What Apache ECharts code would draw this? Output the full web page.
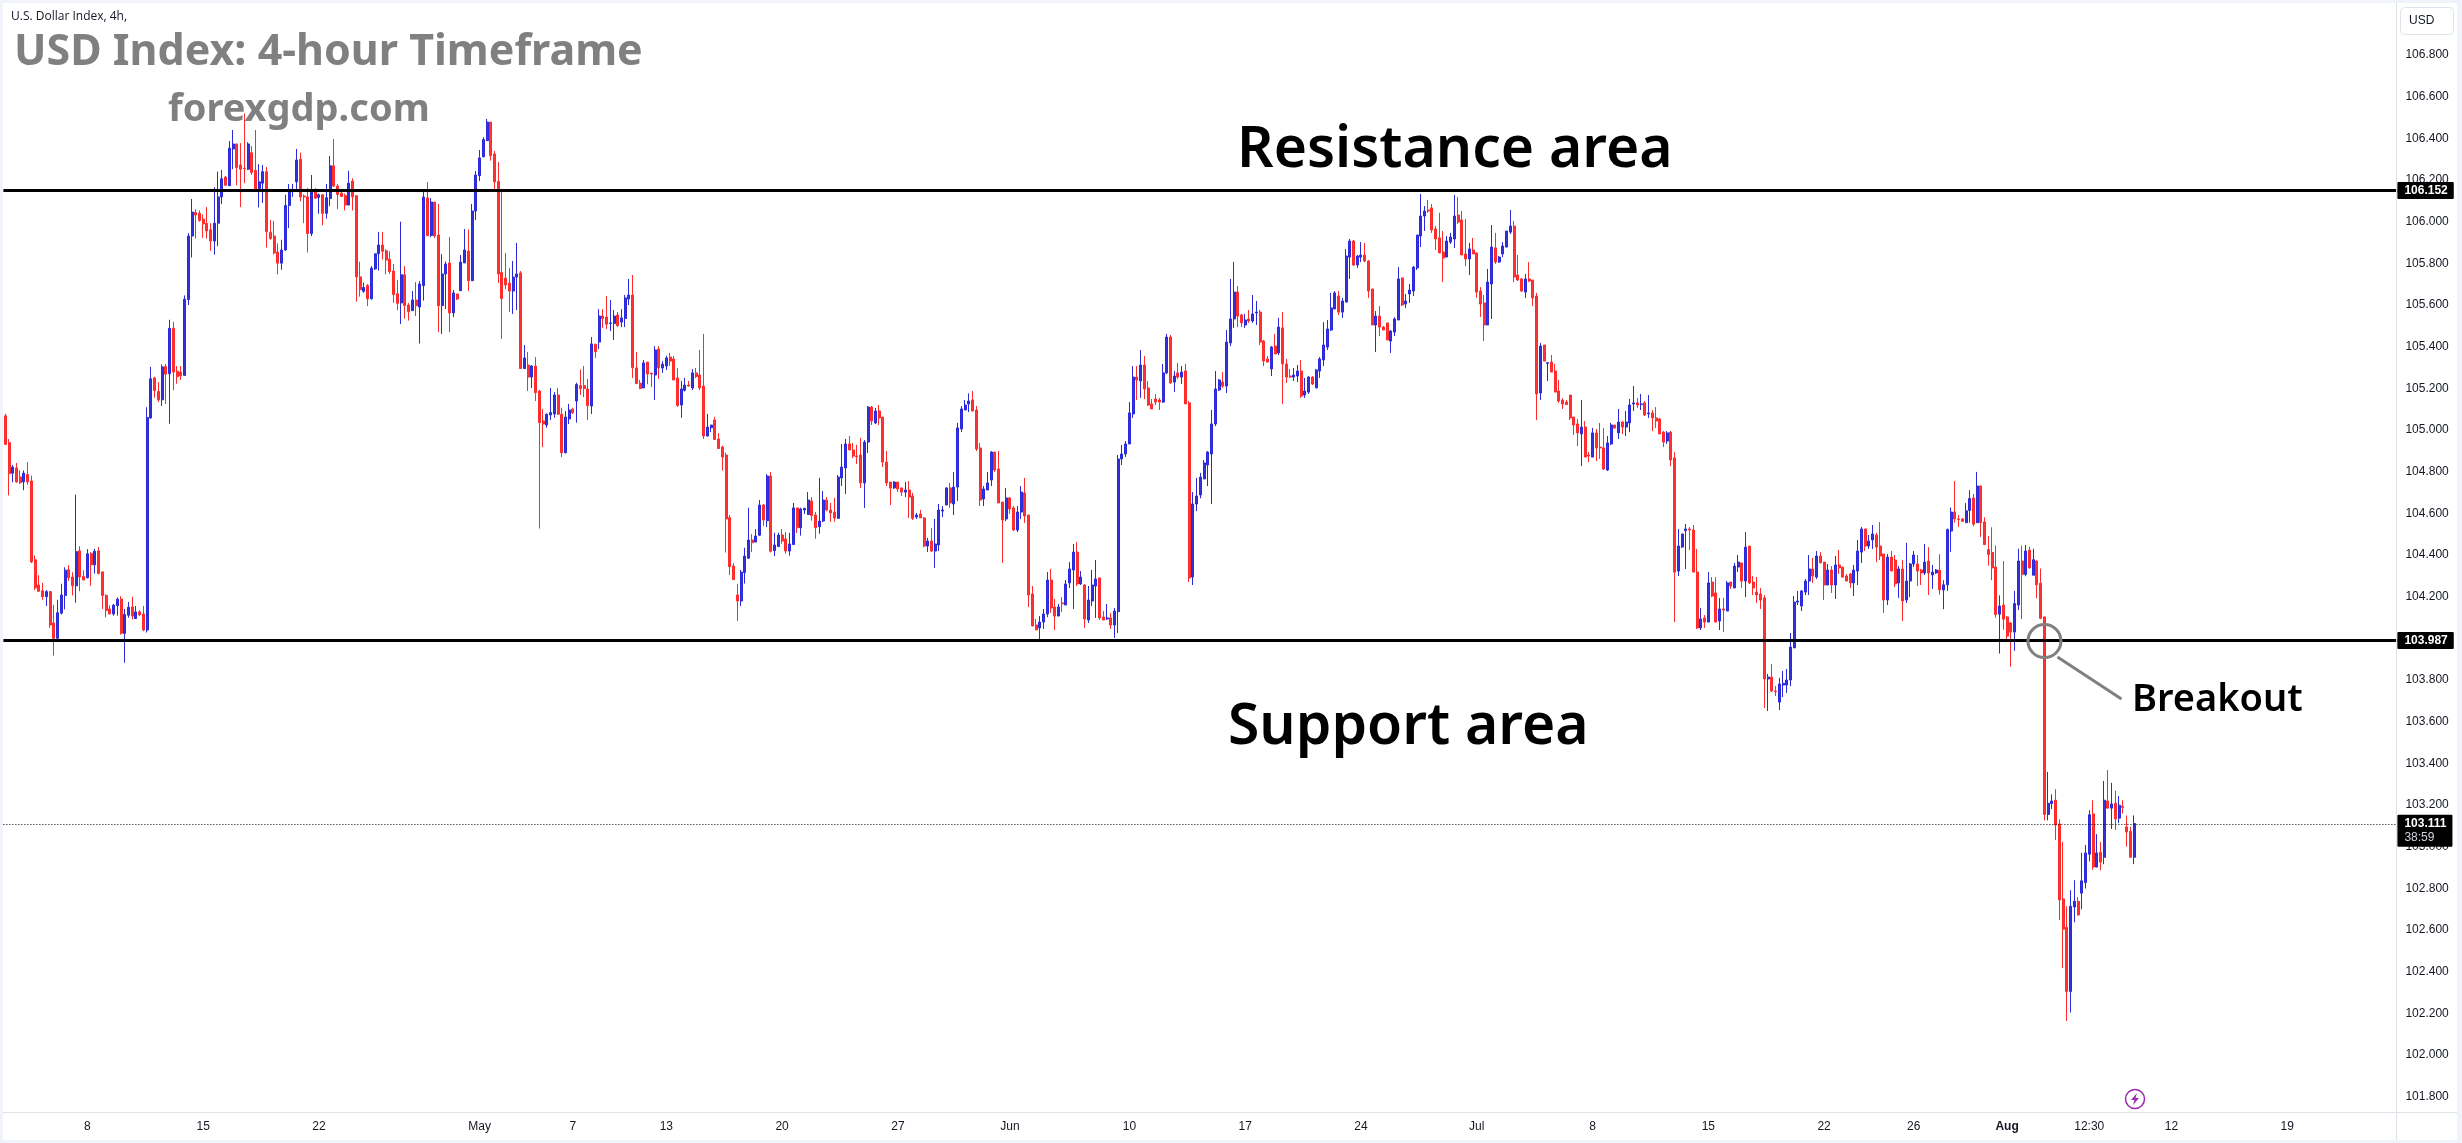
<!DOCTYPE html>
<html>
<head>
<meta charset="utf-8">
<title>USD Index: 4-hour Timeframe</title>
<script src="https://cdn.jsdelivr.net/npm/echarts@6/dist/echarts.min.js"></script>
<style>
  html, body { margin: 0; padding: 0; background: #fff; }
  #chart { width: 2462px; height: 1143px; }
</style>
</head>
<body>
<div id="chart"></div>
<script>
// 4-hour bars as [open, close, low, high], one list per calendar stretch.
const aprilBars = [
[105.068,104.931,104.931,105.078],[104.939,104.791,104.686,104.957],[104.793,104.822,104.749,104.832],[104.818,104.751,104.747,104.842],[104.775,104.747,104.741,104.806],[104.751,104.793,104.711,104.806],[104.787,104.751,104.737,104.846],[104.755,104.367,104.361,104.781],
[104.377,104.242,104.232,104.398],[104.256,104.226,104.222,104.303],[104.228,104.200,104.185,104.266],[104.200,104.224,104.155,104.232],[104.224,104.064,104.050,104.228],[104.074,104.000,103.917,104.161],[104.000,104.123,103.998,104.185],[104.121,104.208,104.115,104.262],
[104.206,104.327,104.139,104.341],[104.329,104.291,104.276,104.351],[104.295,104.252,104.206,104.317],[104.252,104.416,104.171,104.690],[104.420,104.295,104.226,104.442],[104.297,104.280,104.280,104.327],[104.291,104.406,104.288,104.428],[104.406,104.353,104.252,104.414],
[104.353,104.418,104.311,104.430],[104.420,104.311,104.307,104.438],[104.319,104.206,104.141,104.321],[104.206,104.133,104.101,104.212],[104.141,104.117,104.115,104.159],[104.117,104.159,104.109,104.165],[104.157,104.188,104.109,104.196],[104.188,104.024,104.018,104.202],
[104.024,104.115,103.883,104.141],[104.111,104.149,104.099,104.175],[104.151,104.107,104.091,104.200],[104.095,104.127,104.093,104.155],[104.127,104.113,104.107,104.135],[104.117,104.040,104.034,104.155],[104.040,105.060,104.028,105.109],[105.058,105.246,105.054,105.303],
[105.250,105.189,105.155,105.256],[105.185,105.145,105.135,105.230],[105.145,105.303,105.115,105.315],[105.305,105.268,105.125,105.317],[105.270,105.488,105.030,105.529],[105.488,105.278,105.191,105.519],[105.282,105.256,105.222,105.307],[105.278,105.260,105.240,105.307],
[105.262,105.628,105.260,105.646],[105.626,105.931,105.600,105.945],[105.931,106.046,105.828,106.109],[106.044,106.032,105.919,106.060],[106.040,106.006,106.000,106.054],[106.012,105.989,105.923,106.034],[105.991,105.955,105.919,106.070],[105.961,105.907,105.860,105.993],
[105.907,105.993,105.842,106.165],[105.993,106.119,105.882,106.240],[106.119,106.206,106.084,106.248],[106.214,106.175,106.173,106.220],[106.173,106.353,106.171,106.387],[106.349,106.373,106.252,106.440],[106.373,106.260,106.175,106.373],[106.272,106.252,106.070,106.377],
[106.256,106.254,106.185,106.519],[106.252,106.373,106.248,106.381],[106.331,106.236,106.224,106.363],[106.246,106.151,106.145,106.440],[106.159,106.191,106.068,106.276],[106.185,106.240,106.090,106.272],[106.240,105.953,105.876,106.262],[105.949,105.919,105.913,106.008],
[105.931,105.850,105.842,106.004],[105.854,105.801,105.747,105.896],[105.801,105.864,105.769,105.913],[105.864,106.078,105.860,106.129],[106.078,106.155,105.969,106.181],[106.149,106.151,106.119,106.181],[106.191,106.296,106.155,106.349],[106.300,106.119,106.098,106.331],
[106.123,106.119,105.993,106.131],[106.119,105.943,105.852,106.161],[105.943,106.155,105.931,106.224],[106.155,106.113,106.109,106.161],[106.117,106.129,106.038,106.135],[106.129,106.040,105.983,106.131],[106.040,106.115,106.014,106.181],[106.111,106.268,106.074,106.315],
[106.268,106.171,106.167,106.397],[106.171,106.131,106.060,106.181],[106.137,106.121,106.119,106.143],[106.125,106.080,106.054,106.135],[106.080,106.185,106.078,106.244],[106.195,106.119,106.054,106.208],[106.125,105.735,105.616,106.125],[105.735,105.674,105.640,105.808],
[105.666,105.684,105.658,105.707],[105.694,105.630,105.595,105.700],[105.630,105.777,105.626,105.787],[105.773,105.846,105.769,105.846],[105.846,105.888,105.765,105.951],[105.888,105.858,105.818,105.951],[105.860,105.816,105.747,105.868],[105.820,105.761,105.749,105.858],
[105.763,105.650,105.610,105.797],[105.654,105.608,105.575,105.721],[105.610,105.745,105.509,106.000],[105.745,105.598,105.535,105.787],[105.600,105.568,105.525,105.610],[105.573,105.624,105.573,105.667],[105.624,105.597,105.547,105.710],[105.590,105.701,105.415,105.715],
[105.693,106.118,105.621,106.142],[106.114,105.933,105.933,106.190],[105.934,106.094,105.926,106.113],[106.094,105.931,105.922,106.094],[105.936,105.597,105.470,106.085],[105.597,105.749,105.461,105.844],[105.749,105.797,105.581,105.809],[105.802,105.562,105.470,105.926],
[105.562,105.658,105.542,105.672],[105.653,105.629,105.624,105.653],[105.669,105.806,105.667,105.840],[105.802,105.864,105.802,105.965],[105.859,105.717,105.667,105.962],[105.717,106.051,105.715,106.085],[106.051,106.224,106.008,106.243]
];

const mayBars = [
[106.221,106.306,106.195,106.344],[106.311,106.394,106.310,106.406],[106.389,106.478,106.387,106.493],[106.478,106.317,106.293,106.478],[106.325,106.191,106.142,106.339],[106.193,105.749,105.706,106.286],[105.756,105.631,105.437,106.145],[105.729,105.696,105.676,105.850],
[105.705,105.667,105.566,105.778],[105.667,105.734,105.557,105.811],[105.734,105.749,105.576,105.898],[105.754,105.295,105.293,105.763],[105.295,105.346,105.293,105.408],[105.312,105.254,105.187,105.374],[105.254,105.307,105.202,105.312],[105.307,105.179,105.139,105.350],
[105.187,105.035,104.527,105.192],[105.043,105.029,104.918,105.101],[105.024,105.076,105.011,105.079],[105.072,105.084,105.048,105.202],[105.077,105.168,105.059,105.182],[105.168,105.076,105.072,105.202],[105.076,104.891,104.870,105.107],[104.891,105.062,104.887,105.091],
[105.053,105.096,105.029,105.125],[105.100,105.083,105.077,105.107],[105.139,105.218,105.035,105.227],[105.213,105.199,105.168,105.290],[105.213,105.199,105.158,105.307],[105.197,105.117,105.048,105.245],[105.115,105.413,105.077,105.446],[105.412,105.376,105.346,105.413],
[105.422,105.547,105.389,105.580],[105.547,105.535,105.490,105.580],[105.542,105.508,105.485,105.643],[105.511,105.514,105.475,105.624],[105.511,105.547,105.432,105.576],[105.552,105.501,105.494,105.566],[105.518,105.538,105.494,105.580],[105.535,105.634,105.494,105.648],
[105.629,105.648,105.600,105.725],[105.648,105.300,105.250,105.744],[105.298,105.223,105.220,105.374],[105.225,105.199,105.196,105.240],[105.202,105.322,105.202,105.336],[105.326,105.269,105.220,105.326],[105.273,105.269,105.206,105.273],[105.264,105.384,105.144,105.403],
[105.389,105.298,105.245,105.403],[105.298,105.316,105.274,105.331],[105.307,105.346,105.288,105.357],[105.350,105.331,105.307,105.370],[105.341,105.240,105.240,105.355],[105.250,105.118,105.110,105.297],[105.120,105.197,105.059,105.235],[105.191,105.216,105.185,105.250],
[105.216,105.211,105.209,105.235],[105.202,105.274,105.192,105.292],[105.274,105.257,105.249,105.298],[105.264,105.202,105.192,105.384],[105.211,104.971,104.957,105.461],[104.971,105.014,104.969,105.077],[105.011,105.024,104.990,105.024],[105.048,104.954,104.952,105.062],
[104.957,104.911,104.911,104.985],[104.918,104.870,104.805,104.925],[104.880,104.573,104.412,104.891],[104.579,104.344,104.304,104.592],[104.347,104.282,104.280,104.361],[104.208,104.179,104.083,104.262],[104.179,104.318,104.155,104.328],[104.316,104.395,104.263,104.435],
[104.385,104.472,104.381,104.627],[104.472,104.459,104.414,104.500],[104.462,104.491,104.462,104.524],[104.495,104.640,104.493,104.664],[104.640,104.568,104.539,104.644],[104.565,104.779,104.534,104.788],[104.779,104.418,104.412,104.798],[104.421,104.448,104.395,104.507],
[104.441,104.496,104.438,104.507],[104.496,104.467,104.454,104.525],[104.477,104.419,104.406,104.510],[104.419,104.453,104.397,104.506],[104.450,104.626,104.450,104.650],[104.626,104.531,104.506,104.626],[104.531,104.621,104.493,104.627],[104.616,104.624,104.597,104.626],
[104.594,104.664,104.592,104.702],[104.659,104.590,104.565,104.678],[104.592,104.531,104.478,104.606],[104.536,104.563,104.502,104.770],[104.563,104.664,104.558,104.707],[104.664,104.616,104.610,104.678],[104.616,104.602,104.560,104.650],[104.606,104.578,104.560,104.674],
[104.576,104.774,104.573,104.784],[104.770,104.822,104.731,104.933],[104.818,104.933,104.693,104.957],[104.933,104.904,104.904,104.971],[104.904,104.875,104.866,104.938],[104.875,104.872,104.837,104.928],[104.880,104.746,104.722,104.962],[104.746,104.942,104.626,104.952],
[104.942,105.110,104.890,105.115],[105.110,105.043,105.024,105.115],[105.034,105.091,105.029,105.106],[105.091,105.058,105.024,105.120],[105.062,104.846,104.822,105.062],[104.846,104.746,104.731,104.899],[104.750,104.722,104.640,104.750],[104.722,104.750,104.717,104.755],
[104.750,104.717,104.702,104.750],[104.722,104.702,104.683,104.722],[104.702,104.712,104.678,104.750],[104.712,104.678,104.578,104.755],[104.683,104.576,104.568,104.698],[104.582,104.592,104.573,104.602],[104.597,104.578,104.578,104.616],[104.578,104.443,104.438,104.582],
[104.443,104.467,104.414,104.482],[104.467,104.419,104.414,104.530],[104.419,104.453,104.338,104.573],[104.448,104.616,104.419,104.645],[104.611,104.616,104.582,104.635],[104.640,104.722,104.640,104.725],[104.722,104.650,104.626,104.746],[104.645,104.726,104.592,104.798],
[104.726,105.010,104.659,105.034],[105.005,105.101,104.990,105.115],[105.096,105.120,105.096,105.144],[105.125,105.139,105.086,105.176],[105.144,105.091,105.091,105.187],[105.096,104.909,104.899,105.115],[104.914,104.664,104.635,104.938],[104.669,104.717,104.635,104.731],
[104.712,104.746,104.712,104.798],[104.760,104.894,104.731,104.899],[104.894,104.808,104.798,104.894],[104.813,104.650,104.650,104.899],[104.654,104.568,104.362,104.654],[104.573,104.674,104.563,104.722],[104.674,104.621,104.597,104.678]
];

const juneBars = [
[104.626,104.520,104.515,104.635],[104.520,104.606,104.510,104.635],[104.606,104.702,104.573,104.731],[104.698,104.587,104.554,104.770],[104.592,104.208,104.150,104.592],[104.213,104.059,104.059,104.251],[104.064,104.040,104.040,104.093],[104.050,104.078,103.992,104.107],
[104.078,104.117,104.045,104.141],[104.117,104.280,104.102,104.318],[104.280,104.146,104.122,104.333],[104.150,104.107,104.040,104.189],[104.107,104.150,104.107,104.165],[104.170,104.166,104.126,104.198],[104.160,104.261,104.160,104.280],[104.266,104.333,104.242,104.366],
[104.328,104.414,104.141,104.453],[104.414,104.261,104.251,104.462],[104.261,104.294,104.256,104.323],[104.256,104.093,104.050,104.261],[104.088,104.184,104.074,104.251],[104.179,104.256,104.155,104.328],[104.251,104.285,104.098,104.376],[104.290,104.098,104.088,104.290],
[104.102,104.088,104.088,104.131],[104.093,104.098,104.088,104.165],[104.098,104.064,104.045,104.122],[104.064,104.131,104.002,104.146],[104.128,104.861,104.026,104.880],[104.861,104.885,104.832,104.928],[104.885,104.933,104.870,104.947],[104.933,105.082,104.933,105.134],
[105.077,105.254,105.058,105.307],[105.254,105.240,105.144,105.307],[105.235,105.312,105.154,105.384],[105.312,105.197,105.149,105.355],[105.202,105.120,105.115,105.235],[105.125,105.101,105.101,105.149],[105.149,105.134,105.120,105.173],[105.144,105.134,105.096,105.154],
[105.134,105.274,105.130,105.317],[105.274,105.446,105.269,105.461],[105.446,105.226,105.221,105.456],[105.230,105.259,105.182,105.283],[105.274,105.254,105.245,105.322],[105.254,105.278,105.221,105.307],[105.283,105.125,105.125,105.317],[105.130,104.290,104.270,105.139],
[104.294,104.645,104.256,104.702],[104.645,104.683,104.611,104.770],[104.688,104.774,104.672,104.794],[104.765,104.842,104.765,104.856],[104.832,104.894,104.731,104.899],[104.885,105.029,104.645,105.096],[105.029,105.197,105.019,105.283],[105.192,105.240,105.187,105.245],
[105.230,105.211,105.202,105.278],[105.211,105.422,105.178,105.480],[105.418,105.533,105.403,105.725],[105.533,105.662,105.490,105.806],[105.662,105.547,105.494,105.691],[105.552,105.514,105.494,105.557],[105.504,105.528,105.490,105.557],[105.533,105.523,105.514,105.576],
[105.523,105.557,105.514,105.648],[105.562,105.566,105.504,105.619],[105.566,105.422,105.408,105.576],[105.427,105.331,105.307,105.432],[105.341,105.326,105.326,105.355],[105.293,105.398,105.259,105.403],[105.403,105.365,105.365,105.461],[105.370,105.494,105.360,105.538],
[105.490,105.317,105.125,105.566],[105.317,105.254,105.226,105.341],[105.259,105.254,105.250,105.293],[105.254,105.264,105.235,105.298],[105.259,105.283,105.230,105.312],[105.283,105.163,105.154,105.336],[105.168,105.187,105.154,105.250],[105.182,105.254,105.173,105.259],
[105.254,105.221,105.216,105.259],[105.202,105.288,105.202,105.293],[105.283,105.341,105.250,105.350],[105.336,105.408,105.307,105.518],[105.398,105.485,105.384,105.528],[105.480,105.586,105.475,105.658],[105.581,105.658,105.581,105.667],[105.643,105.566,105.552,105.667],
[105.566,105.619,105.538,105.634],[105.614,105.835,105.614,105.869],[105.830,105.907,105.725,105.917],[105.907,105.792,105.787,105.912],[105.792,105.835,105.778,105.840],[105.830,105.840,105.806,105.902],[105.840,105.811,105.806,105.898],[105.811,105.667,105.634,105.816],
[105.677,105.504,105.504,105.677],[105.504,105.547,105.374,105.571],[105.547,105.494,105.451,105.595],[105.494,105.480,105.480,105.499],[105.514,105.432,105.432,105.514],[105.427,105.475,105.370,105.480],[105.470,105.533,105.451,105.542],[105.528,105.725,105.528,105.782],
[105.730,105.600,105.595,105.730],[105.605,105.619,105.586,105.653],[105.653,105.672,105.610,105.701],[105.667,105.782,105.643,105.787],[105.778,105.936,105.768,105.936],[105.931,106.027,105.878,106.133],[106.027,106.051,105.955,106.075],[106.056,106.051,106.042,106.104],
[106.066,105.960,105.946,106.085],[105.965,105.917,105.864,105.979],[105.922,105.850,105.850,106.042],[105.854,105.826,105.710,105.955],[105.830,105.907,105.830,105.931],[105.902,105.926,105.893,105.946],[105.917,106.027,105.874,106.128],[106.032,105.998,105.989,106.118]
];

const julyBars = [
[106.008,105.840,105.840,106.051],[105.845,105.821,105.787,106.013],[105.821,105.869,105.744,105.898],[105.864,105.845,105.845,105.922],[105.850,105.662,105.634,105.850],[105.667,105.605,105.542,105.686],[105.610,105.504,105.427,105.648],[105.504,105.710,105.504,105.773],
[105.701,105.878,105.533,105.984],[105.874,105.806,105.797,105.946],[105.806,105.830,105.802,105.835],[105.845,105.883,105.830,105.902],[105.878,105.955,105.878,105.955],[105.950,105.979,105.941,106.056],[105.979,105.734,105.710,106.003],[105.744,105.720,105.715,105.840],
[105.725,105.667,105.662,105.730],[105.662,105.725,105.634,105.749],[105.725,105.715,105.710,105.806],[105.720,105.634,105.595,105.720],[105.643,105.173,105.048,105.658],[105.178,105.403,105.144,105.418],[105.408,105.331,105.331,105.408],[105.320,105.323,105.235,105.326],
[105.326,105.278,105.278,105.360],[105.283,105.182,105.182,105.317],[105.187,105.139,105.130,105.240],[105.144,105.125,105.101,105.152],[105.134,105.122,105.120,105.144],[105.168,105.058,105.048,105.168],[105.062,105.024,104.976,105.062],[105.029,104.986,104.923,105.053],
[104.981,105.014,104.827,105.144],[105.014,104.870,104.870,105.043],[104.880,104.875,104.846,104.894],[104.870,104.986,104.870,105.010],[104.986,104.914,104.851,105.005],[104.918,104.914,104.861,105.034],[104.914,104.813,104.808,105.010],[104.808,104.938,104.803,104.971],
[104.933,105.024,104.928,105.034],[105.024,105.010,105.005,105.024],[104.986,105.038,104.957,105.101],[105.038,105.014,104.981,105.043],[105.014,105.038,104.971,105.091],[105.034,105.120,104.990,105.149],[105.125,105.130,105.091,105.211],[105.130,105.120,105.106,105.154],
[105.122,105.125,105.096,105.173],[105.130,105.072,105.067,105.139],[105.078,105.082,105.058,105.168],[105.082,105.058,104.995,105.096],[105.058,105.043,105.010,105.110],[105.053,104.981,104.981,105.058],[104.990,104.942,104.918,104.995],[104.947,104.986,104.933,104.995],
[104.990,104.856,104.827,104.995],[104.866,104.318,104.078,104.894],[104.323,104.443,104.299,104.525],[104.438,104.501,104.434,104.501],[104.517,104.525,104.333,104.549],[104.525,104.520,104.424,104.534],[104.520,104.318,104.318,104.544],[104.318,104.050,104.045,104.429],
[104.050,104.093,104.040,104.146],[104.098,104.078,104.050,104.112],[104.078,104.266,104.078,104.318],[104.270,104.203,104.198,104.294],[104.218,104.078,104.078,104.294],[104.083,104.141,104.040,104.194],[104.141,104.136,104.030,104.194],[104.131,104.266,104.131,104.275],
[104.270,104.251,104.237,104.270],[104.242,104.347,104.242,104.362],[104.342,104.366,104.318,104.400],[104.362,104.275,104.242,104.362],[104.275,104.438,104.198,104.510],[104.443,104.266,104.261,104.443],[104.270,104.242,104.208,104.299],[104.222,104.208,104.170,104.294],
[104.213,104.184,104.141,104.242],[104.194,103.805,103.666,104.208],[103.805,103.814,103.651,103.829],[103.814,103.747,103.742,103.877],[103.747,103.744,103.723,103.771],[103.694,103.781,103.656,103.810],[103.776,103.784,103.718,103.843],[103.776,103.800,103.738,103.853],
[103.800,103.958,103.771,104.026],[103.954,104.174,103.954,104.203],[104.174,104.179,104.160,104.227],[104.155,104.227,104.131,104.232],[104.222,104.275,104.208,104.285],[104.275,104.333,104.208,104.400],[104.333,104.299,104.266,104.386],[104.294,104.395,104.285,104.419],
[104.395,104.362,104.362,104.414],[104.366,104.256,104.184,104.366],[104.256,104.328,104.256,104.357],[104.328,104.256,104.218,104.347],[104.256,104.352,104.189,104.395],[104.352,104.338,104.309,104.424],[104.342,104.294,104.294,104.342],[104.299,104.275,104.275,104.309],
[104.309,104.266,104.242,104.314],[104.266,104.328,104.203,104.352],[104.323,104.419,104.256,104.472],[104.414,104.525,104.362,104.534],[104.525,104.443,104.419,104.525],[104.443,104.467,104.429,104.496],[104.472,104.501,104.429,104.544],[104.496,104.438,104.366,104.506],
[104.443,104.395,104.376,104.558],[104.405,104.184,104.122,104.405],[104.184,104.390,104.160,104.405],[104.390,104.323,104.323,104.419],[104.376,104.261,104.246,104.400],[104.266,104.333,104.194,104.347],[104.333,104.179,104.083,104.376],[104.184,104.275,104.170,104.458],
[104.275,104.357,104.198,104.362],[104.357,104.400,104.342,104.419],[104.357,104.323,104.251,104.400],[104.328,104.314,104.256,104.333],[104.314,104.366,104.304,104.453],[104.371,104.314,104.208,104.438],[104.304,104.318,104.237,104.352],[104.314,104.328,104.309,104.333],
[104.327,104.233,104.210,104.404],[104.232,104.257,104.140,104.279],[104.257,104.522,104.228,104.527],[104.515,104.606,104.415,104.628],[104.606,104.573,104.555,104.755],[104.573,104.570,104.535,104.592],[104.573,104.562,104.559,104.577],[104.555,104.612,104.555,104.649],
[104.614,104.671,104.555,104.711],[104.674,104.548,104.538,104.693],[104.555,104.731,104.555,104.799],[104.731,104.555,104.487,104.733],[104.559,104.450,104.450,104.581],[104.426,104.402,104.349,104.491],[104.412,104.338,104.279,104.533],[104.342,104.114,104.099,104.445],
[104.116,104.155,103.927,104.206],[104.160,104.092,104.041,104.371],[104.103,104.011,103.985,104.107]
];

const augustBars = [
[104.074,104.030,103.864,104.077],[104.030,104.167,103.940,104.228],[104.160,104.371,104.136,104.430],[104.371,104.307,104.092,104.445],[104.307,104.419,104.298,104.448],[104.423,104.338,104.335,104.439],[104.303,104.377,104.303,104.430],[104.371,104.257,104.193,104.375],
[104.265,104.096,104.092,104.335],[104.103,103.155,103.126,104.103],[103.155,103.208,103.126,103.359],[103.207,103.219,103.181,103.251],[103.223,103.104,103.032,103.276],[103.109,102.744,102.648,103.131],[102.749,102.604,102.417,103.023],[102.613,102.305,102.163,102.714],
[102.305,102.714,102.204,102.791],[102.711,102.738,102.637,102.839],[102.738,102.672,102.670,102.758],[102.777,102.836,102.700,102.971],[102.828,102.970,102.799,103.008],[102.964,103.153,102.929,103.175],[103.157,102.903,102.889,103.223],[102.902,102.970,102.902,103.060],
[102.973,102.926,102.887,103.023],[102.949,103.223,102.916,103.315],[103.219,103.185,103.185,103.368],[103.185,103.205,103.085,103.306],[103.208,103.133,103.080,103.269],[103.137,103.199,103.113,103.243],[103.194,103.188,103.159,103.223],[103.095,103.071,103.000,103.150],
[103.074,102.949,102.949,103.095],[102.949,103.111,102.916,103.150]
];

const bars = [...aprilBars, ...mayBars, ...juneBars, ...julyBars, ...augustBars];

// Time-scale labels and the bar each one sits under.
const tickLabels = ['8','15','22','May','7','13','20','27','Jun','10','17','24','Jul','8','15','22','26','Aug','12:30','12','19'];
const tickBars = [22,53,84,127,152,177,208,239,269,301,332,363,394,425,456,487,511,536,558,580,611];

const resistanceLevel = 106.152;
const supportLevel = 103.987;
const lastPrice = 103.111;
const countdown = '38:59';
const slotCount = 641;
const breakoutBar = 546;

const categories = Array.from({ length: slotCount }, (_, i) => {
  const at = tickBars.indexOf(i);
  return at >= 0 ? tickLabels[at] : '';
});

const axisFont = '"Liberation Sans", Arial, sans-serif';
const headFont = '"Noto Sans", "Open Sans", sans-serif';
const LINE = '#e0e3eb';
const BAND = '#f0f3fa';

function levelTag(value) {
  return {
    yAxis: value,
    lineStyle: { color: '#000', width: 3, type: 'solid' },
    label: {
      show: true, position: 'end', distance: 0, formatter: value.toFixed(3),
      color: '#fff', backgroundColor: '#000', fontFamily: axisFont,
      fontSize: 12, fontWeight: 'bold', padding: [3, 6, 2, 7], borderRadius: 1
    }
  };
}

function headText(text, x, y, size, color, weight) {
  return {
    type: 'text', z: 100, silent: true,
    style: { text, x, y, fill: color, font: `${weight} ${size}px ${headFont}`, verticalAlign: 'middle' }
  };
}

function frameRect(x, y, width, height, color) {
  return { type: 'rect', z: 90, silent: true, shape: { x, y, width, height }, style: { fill: color } };
}

const chart = echarts.init(document.getElementById('chart'), null, { renderer: 'canvas' });

chart.setOption({
  animation: false,
  backgroundColor: '#ffffff',
  grid: { left: 3.4, top: 55, width: 2394, height: 1041.67, containLabel: false },
  xAxis: {
    type: 'category',
    data: categories,
    boundaryGap: true,
    axisLine: { show: false },
    axisTick: { show: false },
    splitLine: { show: false },
    axisLabel: {
      interval: 0, margin: 24, color: '#131722', fontFamily: axisFont, fontSize: 12,
      formatter: v => (v === 'Aug' ? '{b|Aug}' : v),
      rich: { b: { fontWeight: 'bold', fontFamily: axisFont, fontSize: 12, color: '#131722' } }
    }
  },
  yAxis: {
    type: 'value',
    position: 'right',
    min: 101.8,
    max: 106.8,
    interval: 0.2,
    axisLine: { show: false },
    axisTick: { show: false },
    splitLine: { show: false },
    axisLabel: {
      margin: 8, color: '#131722', fontFamily: axisFont, fontSize: 12,
      formatter: v => v.toFixed(3)
    }
  },
  series: [{
    type: 'candlestick',
    data: bars,
    barWidth: 2.5,
    clip: false,
    itemStyle: {
      color: '#3333d9', color0: '#ff3333',
      borderColor: '#2a2adb', borderColor0: '#ff2a2a',
      borderWidth: 1
    },
    markLine: {
      silent: true, symbol: 'none', animation: false, z: 20,
      data: [
        levelTag(resistanceLevel),
        levelTag(supportLevel),
        {
          yAxis: lastPrice,
          lineStyle: { color: '#000', width: 1, type: [1, 2] },
          label: {
            show: true, position: 'end', distance: 0, offset: [0, 7],
            formatter: `{a|${lastPrice.toFixed(3)}}\n{b|${countdown}}`,
            backgroundColor: '#000', padding: [2, 6, 2, 7], borderRadius: 1,
            rich: {
              a: { color: '#fff', fontFamily: axisFont, fontSize: 12, fontWeight: 'bold', lineHeight: 14 },
              b: { color: '#d1d4dc', fontFamily: axisFont, fontSize: 12, lineHeight: 14 }
            }
          }
        }
      ]
    }
  }]
});

// Annotations go in once the axes exist, so the breakout ring can sit on its bar.
const [ringX, ringY] = chart.convertToPixel({ xAxisIndex: 0, yAxisIndex: 0 }, [breakoutBar, supportLevel]);
chart.setOption({
  graphic: [
    // Pane frame and price-scale column
    frameRect(0, 0, 2462, 3, BAND),
    frameRect(0, 0, 3, 1143, BAND),
    frameRect(2457, 0, 5, 1143, BAND),
    frameRect(0, 1140, 2462, 3, BAND),
    frameRect(2396, 3, 1, 1137, LINE),
    frameRect(3, 1112, 2454, 1, LINE),
    // Currency button above the price scale
    {
      type: 'rect', z: 95, silent: true,
      shape: { x: 2400.5, y: 7.5, width: 53, height: 27, r: 4 },
      style: { fill: '#fff', stroke: LINE, lineWidth: 1 }
    },
    { type: 'text', z: 96, silent: true, style: { text: 'USD', x: 2409, y: 21, fill: '#131722', font: `12px ${axisFont}`, verticalAlign: 'middle' } },
    // Legend and headings
    { type: 'text', z: 96, silent: true, style: { text: 'U.S. Dollar Index, 4h,', x: 11, y: 17, fill: '#131722', font: '12px "Open Sans", sans-serif', verticalAlign: 'middle' } },
    headText('USD Index: 4-hour Timeframe', 14, 53, 43, '#808080', 'bold'),
    headText('forexgdp.com', 168, 110, 38, '#808080', 'bold'),
    headText('Resistance area', 1237, 151, 57, '#000', '600'),
    headText('Support area', 1228, 728, 57, '#000', '600'),
    headText('Breakout', 2132, 700, 38, '#000', '600'),
    // Session status badge
    {
      type: 'circle', z: 96, silent: true,
      shape: { cx: 2135, cy: 1099, r: 9.5 },
      style: { fill: 'none', stroke: '#9c27b0', lineWidth: 1.5 }
    },
    {
      type: 'polygon', z: 96, silent: true,
      shape: { points: [[2137, 1093], [2131, 1100], [2134.5, 1100], [2133, 1105], [2139, 1098], [2135.5, 1098]] },
      style: { fill: '#9c27b0' }
    },
    // Breakout ring and its leader line
    {
      type: 'circle', z: 97, silent: true,
      shape: { cx: ringX, cy: ringY, r: 16.5 },
      style: { fill: 'none', stroke: '#808080', lineWidth: 3 }
    },
    {
      type: 'line', z: 97, silent: true,
      shape: { x1: ringX + 13, y1: ringY + 16, x2: ringX + 77, y2: ringY + 58 },
      style: { stroke: '#808080', lineWidth: 3 }
    }
  ]
});
</script>
</body>
</html>
